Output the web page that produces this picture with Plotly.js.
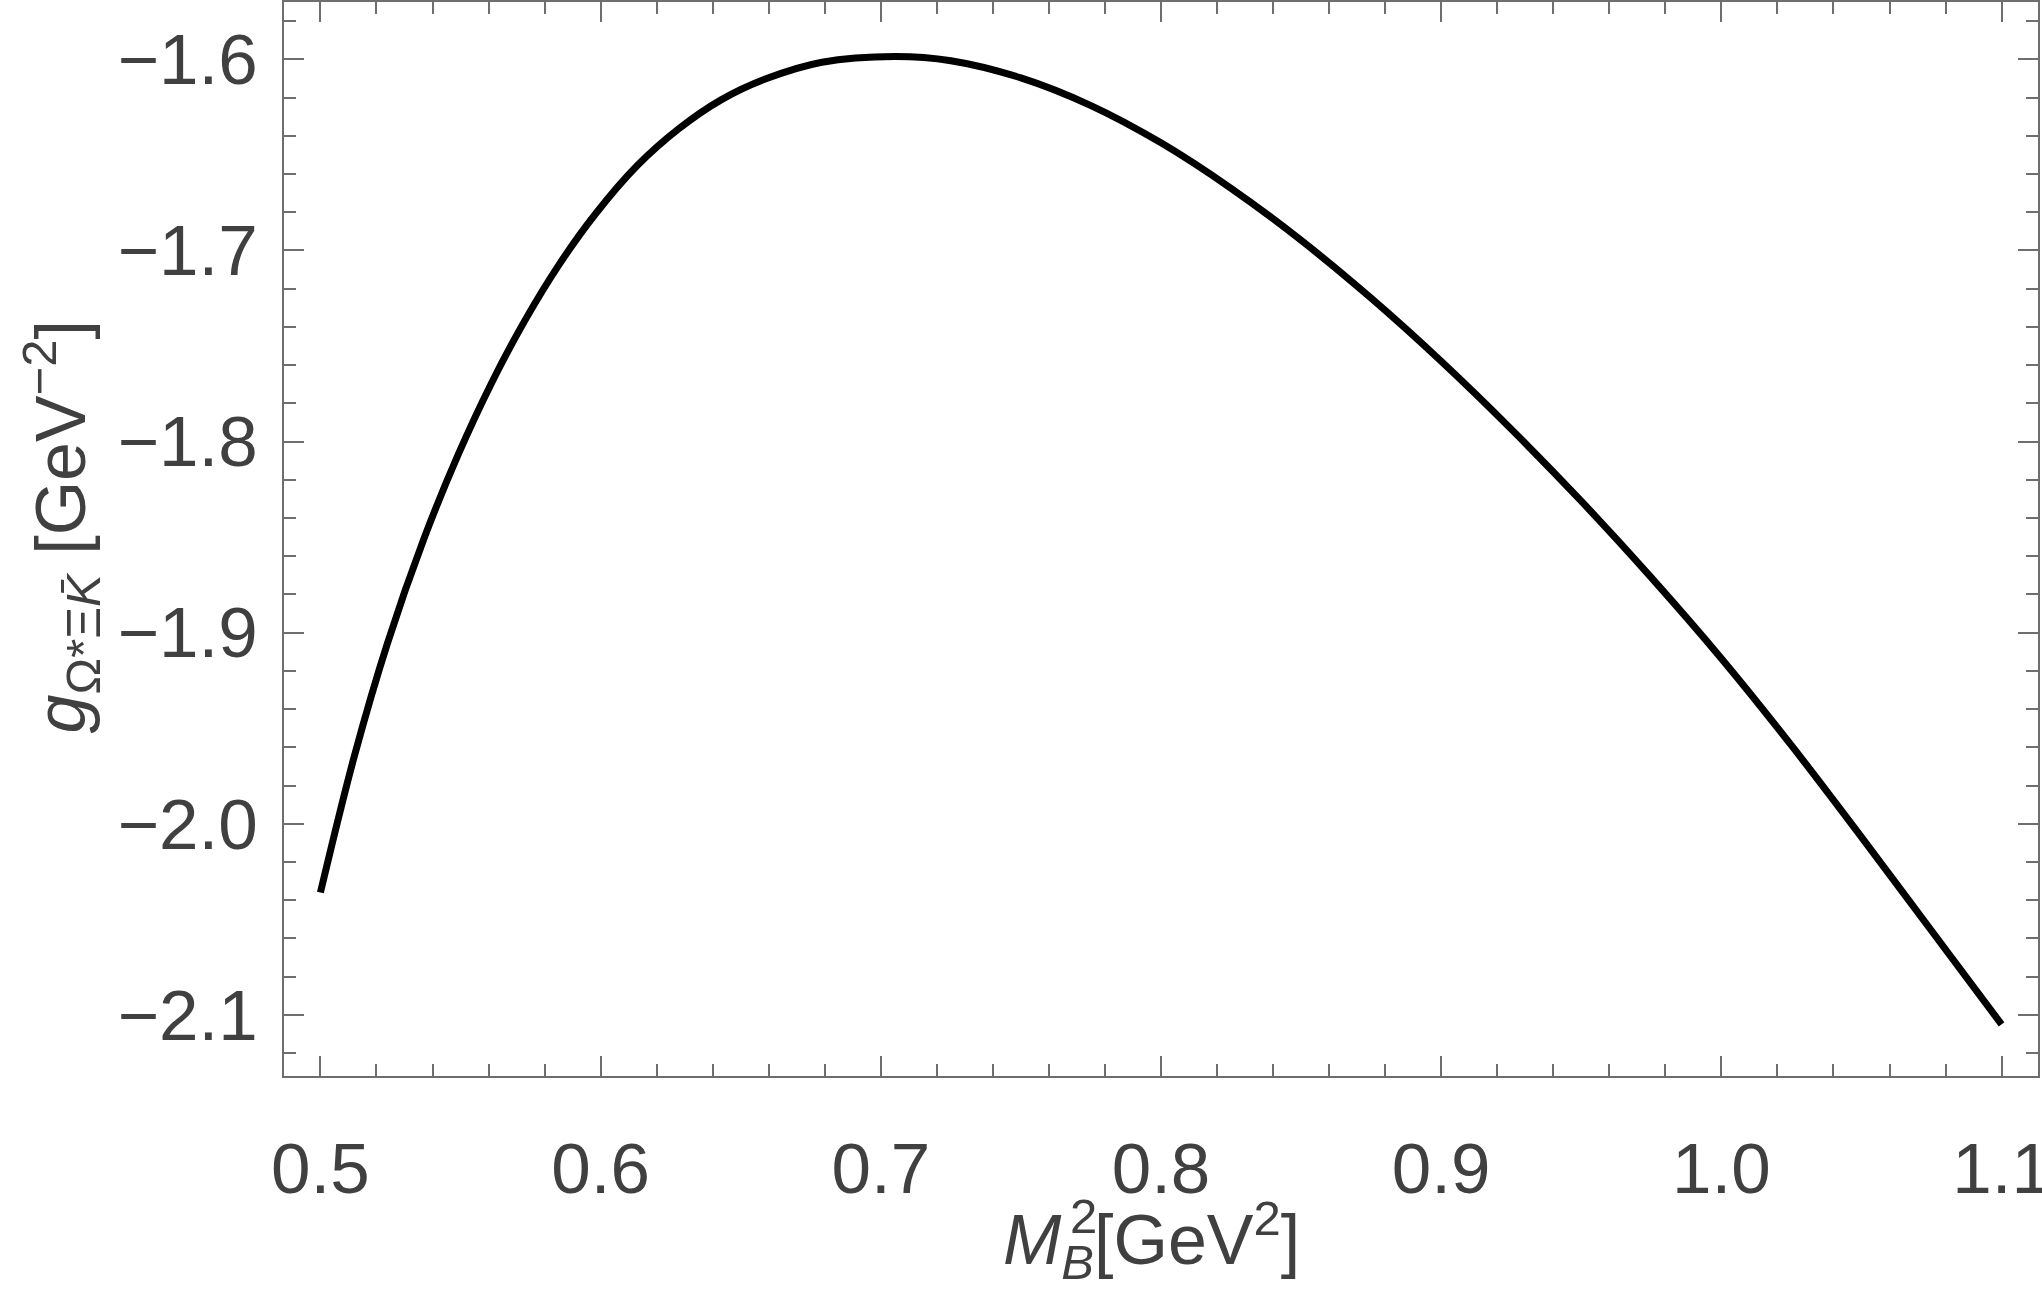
<!DOCTYPE html>
<html>
<head>
<meta charset="utf-8">
<script src="https://cdn.plot.ly/plotly-3.0.1.min.js"></script>
<style>
  html, body { margin: 0; padding: 0; background: #fff; }
  #plot { width: 2042px; height: 1299px; }
</style>
</head>
<body>
<div id="plot"></div>
<script>
// Borel mass M_B^2 (GeV^2) and coupling g (GeV^-2)
var borelMass = [0.500, 0.512, 0.524, 0.537, 0.549, 0.561, 0.573, 0.585, 0.598, 0.613,
                 0.628, 0.643, 0.659, 0.679, 0.705, 0.725, 0.750, 0.775, 0.800, 0.825,
                 0.850, 0.875, 0.900, 0.925, 0.950, 0.975, 1.000, 1.025, 1.050, 1.075,
                 1.100];
var coupling = [-2.036, -1.9652, -1.9052, -1.8506, -1.8074, -1.7696, -1.7366, -1.7078, -1.6812, -1.6557,
                -1.6362, -1.6212, -1.6102, -1.6015, -1.5985, -1.6007, -1.6097, -1.6242, -1.6437, -1.6675,
                -1.6947, -1.7250, -1.7580, -1.7935, -1.8312, -1.8712, -1.9135, -1.9590, -2.0070, -2.0560,
                -2.1050];

var frameColor = '#6e6e6e';
var labelColor = '#404040';
var fontFamily = '"Liberation Sans", Arial, Helvetica, sans-serif';

var trace = {
  x: borelMass,
  y: coupling,
  type: 'scatter',
  mode: 'lines',
  line: {color: '#000000', width: 7, shape: 'spline', smoothing: 1},
  hoverinfo: 'none'
};

function frameAxis(extra) {
  var ax = {
    showline: true,
    linecolor: frameColor,
    linewidth: 2,
    mirror: 'ticks',
    ticks: 'inside',
    ticklen: 20,
    tickwidth: 2,
    tickcolor: frameColor,
    showgrid: false,
    zeroline: false,
    tickformat: '.1f',
    ticklabeloverflow: 'allow',
    tickfont: {family: fontFamily, size: 71, color: labelColor},
    minor: {ticks: 'inside', ticklen: 12, tickwidth: 2, tickcolor: frameColor, dtick: 0.02, showgrid: false}
  };
  for (var k in extra) ax[k] = extra[k];
  return ax;
}

var layout = {
  width: 2042,
  height: 1299,
  margin: {l: 284, r: 4, t: 2, b: 223},
  paper_bgcolor: '#ffffff',
  plot_bgcolor: '#ffffff',
  showlegend: false,
  font: {family: fontFamily, color: labelColor},
  xaxis: frameAxis({range: [0.487, 1.113], tick0: 0.5, dtick: 0.1, ticklabelstandoff: 30}),
  yaxis: frameAxis({range: [-2.132, -1.570], tick0: -1.6, dtick: 0.1, ticklabelstandoff: 10}),
  annotations: [
    {
      text: '<i>M</i><sub><i>B</i></sub>[GeV<sup>2</sup>]',
      xref: 'paper', yref: 'paper', x: 0.4088, y: -0.153,
      xanchor: 'left', yanchor: 'middle', showarrow: false,
      font: {family: fontFamily, size: 70, color: labelColor}
    },
    {
      text: '2',
      xref: 'paper', yref: 'paper', x: 0.4468, y: -0.130,
      xanchor: 'left', yanchor: 'middle', showarrow: false,
      font: {family: fontFamily, size: 49, color: labelColor}
    },
    {
      text: '<i>g</i><sub>Ω*Ξ<i>K\u0304</i></sub> [GeV<sup>−2</sup>]',
      xref: 'paper', yref: 'paper', x: -0.127, y: 0.511,
      xanchor: 'center', yanchor: 'middle', textangle: -90, showarrow: false,
      font: {family: fontFamily, size: 70, color: labelColor}
    }
  ]
};

var config = {responsive: false, displayModeBar: false, staticPlot: true};

Plotly.newPlot('plot', [trace], layout, config);
</script>
</body>
</html>
